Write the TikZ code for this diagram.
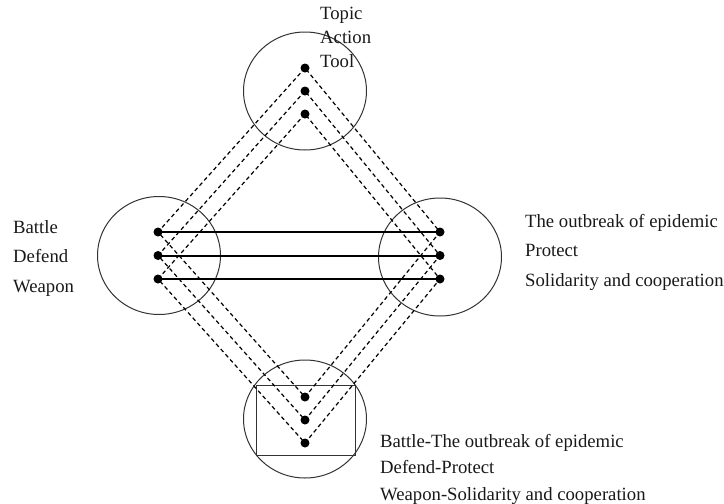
\documentclass[tikz,border=0pt]{standalone}
\usepackage{fontspec}
\setmainfont{Liberation Serif}
\usetikzlibrary{shapes.geometric}
\begin{document}
\begin{tikzpicture}[x=1pt,y=-1pt,
  ring/.style={draw=black!80, line width=1pt, ellipse, inner sep=0pt,
               minimum width=123pt, minimum height=118pt},
  frame/.style={draw=black!80, line width=1pt, rectangle, inner sep=0pt,
                minimum width=99pt, minimum height=70pt},
  dot/.style={circle, fill=black, inner sep=0pt, minimum size=9pt},
  link/.style={line width=2pt},
  dashlink/.style={line width=1.2pt, dash pattern=on 4pt off 3pt},
  txt/.style={anchor=base west, inner sep=0pt, text=black!90, font=\fontsize{18.7}{22}\selectfont}]
\useasboundingbox (0,0) rectangle (724,504);

% four circles and the box inside the lower one
\node[ring] (ctop) at (305,91) {};
\node[ring] (cleft) at (159,255.5) {};
\node[ring] (cright) at (440,257) {};
\node[ring] (cbot) at (305,419) {};
\node[frame] (box) at (305.5,420) {};

% dots
\node[dot] (t1) at (305,68) {};
\node[dot] (t2) at (305,91) {};
\node[dot] (t3) at (305,114) {};
\node[dot] (l1) at (158,232) {};
\node[dot] (l2) at (158,255.5) {};
\node[dot] (l3) at (158,279) {};
\node[dot] (r1) at (440,232) {};
\node[dot] (r2) at (440,255.5) {};
\node[dot] (r3) at (440,279) {};
\node[dot] (b1) at (305,397) {};
\node[dot] (b2) at (305,420) {};
\node[dot] (b3) at (305,443) {};

% three dashed diamonds and the solid cross links
\foreach \i in {1,2,3}{
  \draw[dashlink] (t\i.center) -- (l\i.center) -- (b\i.center) -- (r\i.center) -- cycle;
  \draw[link] (l\i.center) -- (r\i.center);
}

% texts
\node[txt] (tt1) at (320,19) {Topic};
\node[txt] (tt2) at (320,43) {Action};
\node[txt] (tt3) at (320,67) {Tool};

\node[txt] (lt1) at (13,233) {Battle};
\node[txt] (lt2) at (13,262.5) {Defend};
\node[txt] (lt3) at (13,292) {Weapon};

\node[txt] (rt1) at (525,227) {The outbreak of epidemic};
\node[txt] (rt2) at (525,256.5) {Protect};
\node[txt] (rt3) at (525,286) {Solidarity and cooperation};

\node[txt] (bt1) at (380,447) {Battle-The outbreak of epidemic};
\node[txt] (bt2) at (380,473.5) {Defend-Protect};
\node[txt] (bt3) at (380,500) {Weapon-Solidarity and cooperation};
\end{tikzpicture}
\end{document}
